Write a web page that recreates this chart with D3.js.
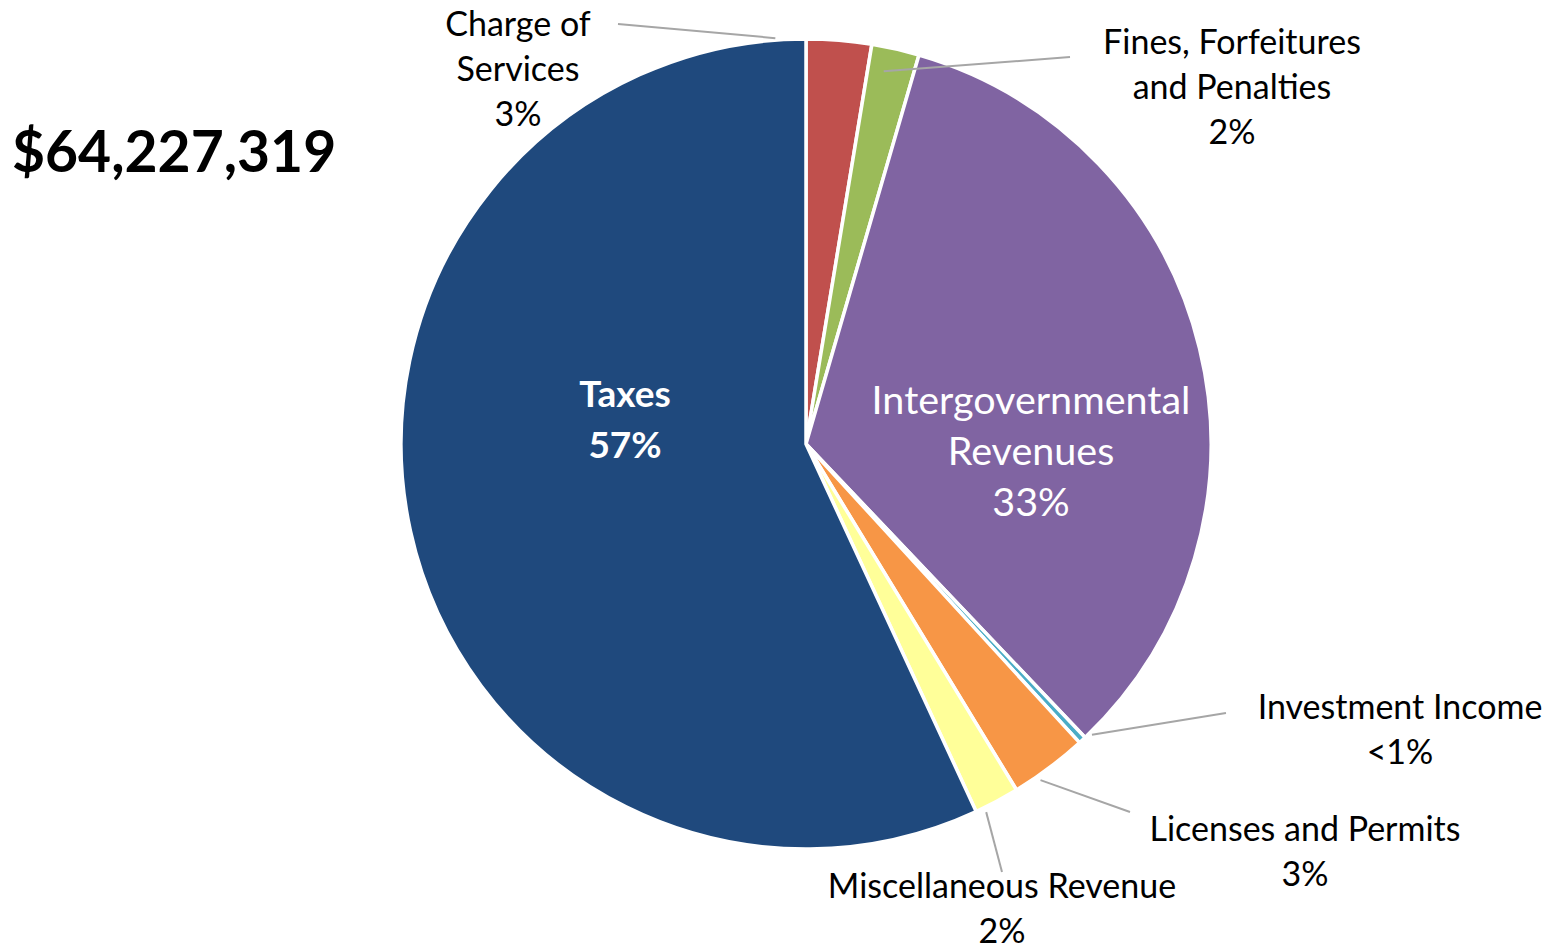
<!DOCTYPE html>
<html>
<head>
<meta charset="utf-8">
<script src="https://cdn.jsdelivr.net/npm/d3@7"></script>
<style>
  html, body { margin: 0; padding: 0; background: #fff; }
  svg { display: block; }
  text { font-family: Lato, "Noto Sans", sans-serif; }
</style>
</head>
<body>
<svg id="chart" width="1552" height="945"></svg>
<script>
// Revenue sources, clockwise from 12 o'clock (share of total, %)
const categories = [
  "Charge of Services",
  "Fines, Forfeitures and Penalties",
  "Intergovernmental Revenues",
  "Investment Income",
  "Licenses and Permits",
  "Miscellaneous Revenue",
  "Taxes"
];
const shares = [2.6, 1.9, 33.4, 0.3, 3.1, 1.8, 56.9];
const shareLabels = ["3%", "2%", "33%", "<1%", "3%", "2%", "57%"];
const labelLines = [
  ["Charge of", "Services"],
  ["Fines, Forfeitures", "and Penalties"],
  ["Intergovernmental", "Revenues"],
  ["Investment Income"],
  ["Licenses and Permits"],
  ["Miscellaneous Revenue"],
  ["Taxes"]
];
const colors = ["#C0504D", "#9BBB59", "#8064A2", "#4BACC6", "#F79646", "#FFFF99", "#1F497D"];
const totalLabel = "$64,227,319";

// Label placement: inside labels sit at an offset from the centre,
// outside labels get a leader line from the slice edge.
const layout = {
  cx: 806, cy: 444, r: 405,
  lineH: 45,
  labels: [
    { x: 518, y: 24,  inside: false, lineEnd: [618, 24],  startAngleNudge: -9, startR: 1.005 },
    { x: 1232, y: 42, inside: false, lineEnd: [1070, 57], startAngleNudge: -1, startR: 0.94 },
    { x: 1031, y: 400, inside: true },
    { x: 1400, y: 707, inside: false, lineEnd: [1226, 713], startAngleNudge: -1.5, startR: 1.007 },
    { x: 1305, y: 829, inside: false, lineEnd: [1130, 812], startAngleNudge: 2, startR: 1.012 },
    { x: 1002, y: 886, inside: false, lineEnd: [1002, 872], startAngleNudge: 2, startR: 1.012 },
    { x: 625, y: 394, inside: true, bold: true }
  ]
};

const data = categories.map((c, i) => ({
  name: c, value: shares[i], pct: shareLabels[i], lines: labelLines[i], color: colors[i], pos: layout.labels[i]
}));

const svg = d3.select("#chart");
const g = svg.append("g").attr("transform", `translate(${layout.cx},${layout.cy})`);

const pie = d3.pie().value(d => d.value).sort(null);
const arc = d3.arc().innerRadius(0).outerRadius(layout.r);
const arcs = pie(data);

g.selectAll("path.slice")
  .data(arcs)
  .join("path")
  .attr("class", "slice")
  .attr("d", arc)
  .attr("fill", d => d.data.color)
  .attr("stroke", "#fff")
  .attr("stroke-width", 3.5)
  .attr("stroke-linejoin", "round");

// Leader lines
arcs.forEach(a => {
  const p = a.data.pos;
  if (p.inside) return;
  const mid = (a.startAngle + a.endAngle) / 2 + p.startAngleNudge * Math.PI / 180;
  const rr = layout.r * p.startR;
  const sx = layout.cx + rr * Math.sin(mid);
  const sy = layout.cy - rr * Math.cos(mid);
  svg.append("line")
    .attr("x1", sx).attr("y1", sy)
    .attr("x2", p.lineEnd[0]).attr("y2", p.lineEnd[1])
    .attr("stroke", "#A6A6A6").attr("stroke-width", 2);
});

// Labels
arcs.forEach(a => {
  const d = a.data, p = d.pos;
  const lines = d.lines.concat([d.pct]);
  const big = p.inside;
  const t = svg.append("text")
    .attr("text-anchor", "middle")
    .attr("fill", big ? "#fff" : "#000")
    .attr("font-size", p.bold ? 37 : (big ? 39.5 : 34))
    .attr("font-weight", p.bold ? 700 : 400);
  const lh = big ? 51 : layout.lineH;
  lines.forEach((ln, i) => {
    t.append("tspan")
      .attr("x", p.x)
      .attr("y", p.y + i * lh)
      .attr("dy", "0.35em")
      .text(ln);
  });
});

// Total
svg.append("text")
  .attr("x", 12).attr("y", 152)
  .attr("dy", "0.35em")
  .attr("font-size", 57)
  .attr("font-weight", 700)
  .attr("fill", "#000")
  .text(totalLabel);
</script>
</body>
</html>
